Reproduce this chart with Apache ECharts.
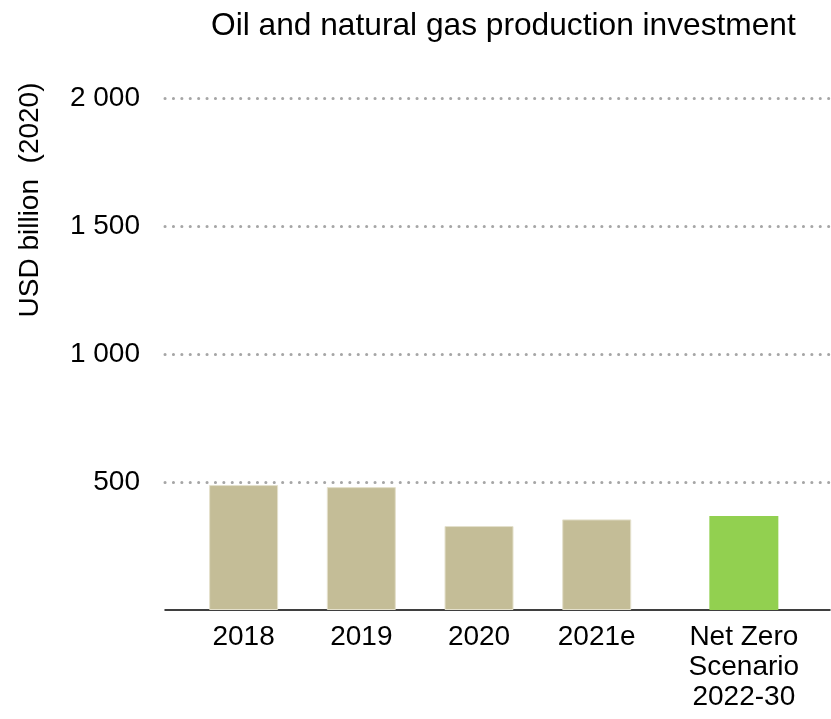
<!DOCTYPE html>
<html>
<head>
<meta charset="utf-8">
<script src="https://cdn.jsdelivr.net/npm/echarts@6/dist/echarts.min.js"></script>
<style>
  html, body { margin: 0; padding: 0; background: #fff; }
  #main { width: 831px; height: 719px; }
</style>
</head>
<body>
<div id="main"></div>
<script>
// categories and values (USD billion, 2020)
const categories = ['2018', '2019', '2020', '2021e', 'Net Zero\nScenario\n2022-30'];
const investment = [488, 480, 328, 354, 367];
const yTicks = [0, 500, 1000, 1500, 2000];

// the scenario bar sits a little further right than the yearly bars
const scenarioGap = 0.25;
const xPos = i => i + (i === categories.length - 1 ? scenarioGap : 0);

const FONT = '"Liberation Sans", Arial, sans-serif';
const TAN = '#c4bd97';
const GREEN = '#92d050';

function fmtThousands(v) {
  if (v === 0) return '';
  return String(v).replace(/\B(?=(\d{3})+(?!\d))/g, ' ');
}

var myChart = echarts.init(document.getElementById('main'));
const option = {
  backgroundColor: '#fff',
  animation: false,
  title: {
    text: 'Oil and natural gas production investment',
    left: 206,
    top: 5,
    textStyle: {
      color: '#000',
      fontSize: 31.7,
      fontWeight: 'normal',
      fontFamily: FONT
    }
  },
  grid: {
    left: 165,
    right: 1,
    top: 98,
    bottom: 109,
    containLabel: false,
    outerBoundsMode: 'none'
  },
  xAxis: {
    type: 'value',
    min: -0.668,
    max: 4.982,
    axisLine: {
      show: true,
      lineStyle: { color: '#000', width: 1.5 }
    },
    axisTick: { show: false },
    splitLine: { show: false },
    axisLabel: {
      customValues: categories.map((c, i) => xPos(i)),
      formatter: function (v) {
        const i = categories.findIndex((c, k) => Math.abs(xPos(k) - v) < 1e-6);
        return i < 0 ? '' : categories[i];
      },
      color: '#000',
      fontSize: 28,
      fontFamily: FONT,
      lineHeight: 30,
      margin: 12
    }
  },
  yAxis: {
    type: 'value',
    min: yTicks[0],
    max: yTicks[yTicks.length - 1],
    interval: yTicks[1] - yTicks[0],
    axisLine: { show: false },
    axisTick: { show: false },
    axisLabel: {
      formatter: fmtThousands,
      color: '#000',
      fontSize: 28,
      fontFamily: FONT,
      margin: 25
    },
    splitLine: {
      show: true,
      showMinLine: false,
      lineStyle: {
        color: '#a6a6a6',
        width: 3,
        type: [0.1, 8.3],
        cap: 'round'
      }
    }
  },
  graphic: [{
    type: 'text',
    x: 30,
    y: 200,
    rotation: Math.PI / 2,
    style: {
      text: 'USD billion  (2020)',
      font: '28px ' + FONT,
      fill: '#000',
      align: 'center',
      verticalAlign: 'middle',
      textAlign: 'center',
      textVerticalAlign: 'middle'
    }
  }],
  series: [{
    type: 'bar',
    barWidth: 69,
    data: investment.map((v, i) => ({
      value: [xPos(i), v],
      itemStyle: i === categories.length - 1
        ? { color: GREEN }
        : { color: TAN, borderColor: '#e4e0cc', borderWidth: 1 }
    }))
  }]
};
myChart.setOption(option);
</script>
</body>
</html>
